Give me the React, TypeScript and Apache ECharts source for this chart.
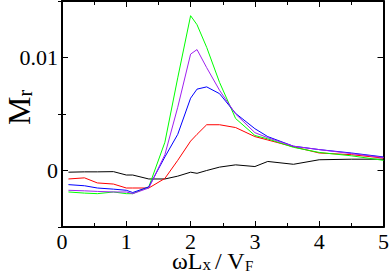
import React, { useEffect, useRef } from "react";
import * as echarts from "echarts";

const xs = [0.1, 0.35, 0.55, 0.8, 1.0, 1.1, 1.35, 1.6, 1.8, 2.0, 2.1, 2.25, 2.45, 2.7, 3.0, 3.2, 3.6, 4.0, 4.5, 5.0];

const blackVals = [-0.00015, -0.00012, -0.00012, -0.0001, -0.0004, -0.0004, -0.00075, -0.00075, -0.0005, -0.00015, -0.00025, 0.0, 0.0003, 0.0005, 0.00035, 0.0008, 0.00055, 0.00095, 0.001, 0.001];
const redVals = [-0.00075, -0.00065, -0.0011, -0.0012, -0.00155, -0.00155, -0.00155, -0.0007, 0.0009, 0.0026, 0.0032, 0.00405, 0.00405, 0.0038, 0.003, 0.0027, 0.0021, 0.00155, 0.0014, 0.0011];
const greenVals = [-0.0019, -0.002, -0.00205, -0.0019, -0.00205, -0.00205, -0.00145, 0.0025, 0.0082, 0.0137, 0.0129, 0.0109, 0.0078, 0.0046, 0.0031, 0.0028, 0.00205, 0.0016, 0.0013, 0.0009];
const blueVals = [-0.00125, -0.00135, -0.00155, -0.00165, -0.00175, -0.00195, -0.00145, 0.0012, 0.0032, 0.0064, 0.0072, 0.0074, 0.0068, 0.00505, 0.0037, 0.003, 0.00215, 0.00185, 0.00155, 0.0012];
const purpleVals = [-0.00175, -0.0018, -0.00185, -0.0019, -0.0019, -0.00205, -0.00155, 0.0014, 0.0056, 0.0103, 0.0107, 0.0091, 0.0071, 0.005, 0.00335, 0.0029, 0.00215, 0.00185, 0.0015, 0.00115];

const xTicks = [0, 1, 2, 3, 4, 5];
const yLabelTicks = [0, 0.01];
const yMinorTicks = [-0.005, 0.005, 0.015];

const FONT = "'Times New Roman', 'Liberation Serif', serif";

function pairs(vals: number[]) {
  return xs.map((x, i) => [x, vals[i]]);
}

export default function App() {
  const ref = useRef<HTMLDivElement>(null);
  useEffect(() => {
    document.body.style.margin = "0";
    if (!ref.current) return;
    const chart = echarts.init(ref.current, null, { renderer: "svg" });
    const axisLine = { show: true, onZero: false, lineStyle: { color: "#000", width: 2 } };
    const baseX = {
      type: "value" as const,
      min: xTicks[0],
      max: xTicks[xTicks.length - 1],
      interval: 1,
      axisLine,
      axisTick: { show: true, inside: true, length: 6, lineStyle: { color: "#000", width: 1 } },
      minorTick: { show: true, splitNumber: 2, length: 4, lineStyle: { color: "#000", width: 1 } },
      splitLine: { show: false },
      minorSplitLine: { show: false },
    };
    const baseY = {
      type: "value" as const,
      min: -0.005,
      max: 0.015,
      interval: 0.005,
      splitLine: { show: false },
    };
    const series = [
      { color: "#000000", vals: blackVals },
      { color: "#ff0000", vals: redVals },
      { color: "#00ff00", vals: greenVals },
      { color: "#0000ff", vals: blueVals },
      { color: "#a020f0", vals: purpleVals },
    ].map((s) => ({
      type: "line" as const,
      data: pairs(s.vals),
      showSymbol: false,
      symbol: "none",
      lineStyle: { color: s.color, width: 1 },
      itemStyle: { color: s.color },
      xAxisIndex: 0,
      yAxisIndex: 0,
      z: 2,
    }));
    chart.setOption({
      animation: false,
      grid: { left: 62, right: 5, top: 1, bottom: 47, containLabel: false },
      xAxis: [
        {
          ...baseX,
          position: "bottom",
          axisLabel: { show: true, fontFamily: FONT, fontSize: 22, lineHeight: 16, color: "#000", margin: 6 },
        },
        { ...baseX, position: "top", axisLabel: { show: false } },
      ],
      yAxis: [
        {
          ...baseY,
          position: "left",
          axisLine,
          axisTick: { show: true, inside: true, length: 6, customValues: yLabelTicks, lineStyle: { color: "#000", width: 1 } },
          axisLabel: {
            show: true,
            customValues: yLabelTicks,
            fontFamily: FONT,
            fontSize: 22,
            color: "#000",
            margin: 4,
            formatter: (v: number) => (v === 0 ? "0" : String(Number(v.toFixed(3)))),
          },
        },
        {
          ...baseY,
          position: "left",
          axisLine: { show: false },
          axisTick: { show: true, inside: true, length: 4, customValues: yMinorTicks, lineStyle: { color: "#000", width: 1 } },
          axisLabel: { show: false },
        },
        {
          ...baseY,
          position: "right",
          axisLine,
          axisTick: { show: true, inside: true, length: 6, customValues: yLabelTicks, lineStyle: { color: "#000", width: 1 } },
          axisLabel: { show: false },
        },
        {
          ...baseY,
          position: "right",
          axisLine: { show: false },
          axisTick: { show: true, inside: true, length: 4, customValues: yMinorTicks, lineStyle: { color: "#000", width: 1 } },
          axisLabel: { show: false },
        },
      ],
      graphic: [
        {
          type: "text",
          x: 35,
          y: 125,
          rotation: Math.PI / 2,
          style: {
            text: "{m|M}{s|r}",
            align: "left",
            verticalAlign: "bottom",
            rich: {
              m: { fontFamily: FONT, fontSize: 32, lineHeight: 32, verticalAlign: "top", fill: "#000" },
              s: { fontFamily: FONT, fontSize: 20, lineHeight: 20, verticalAlign: "bottom", fill: "#000" },
            },
          },
        },
        {
          type: "text",
          x: 172,
          y: 273,
          style: {
            text: "{a|ωL}{x|x}{a|/ V}{f|F}",
            align: "left",
            verticalAlign: "bottom",
            rich: {
              a: { fontFamily: FONT, fontSize: 24, lineHeight: 24, verticalAlign: "top", fill: "#000" },
              x: { fontFamily: FONT, fontSize: 17, lineHeight: 14, verticalAlign: "bottom", fill: "#000", padding: [0, 4, 0, 0] },
              f: { fontFamily: FONT, fontSize: 15, lineHeight: 10, verticalAlign: "bottom", fill: "#000" },
            },
          },
        },
      ],
      series,
    });
    return () => chart.dispose();
  }, []);
  return <div ref={ref} style={{ width: 392, height: 274 }} />;
}
